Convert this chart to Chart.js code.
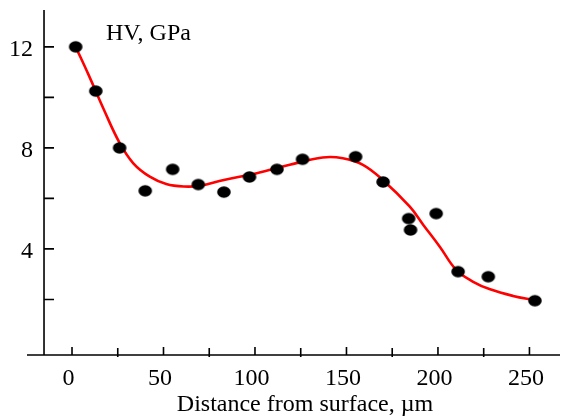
<!DOCTYPE html>
<html>
<head>
<meta charset="utf-8">
<script src="https://cdn.jsdelivr.net/npm/chart.js@4"></script>
<style>
html,body{margin:0;padding:0;background:#fff;}
#wrap{width:561px;height:416px;position:relative;}
</style>
</head>
<body>
<div id="wrap"><canvas id="c" width="561" height="416"></canvas></div>
<script>
// measured hardness points
const depthPoints = [2, 13, 26, 40, 55, 69, 83, 97, 112, 126, 155, 170, 184, 185, 199, 211, 227.5, 253];
const hvPoints = [12.0, 10.25, 8.0, 6.3, 7.15, 6.55, 6.25, 6.85, 7.15, 7.55, 7.65, 6.65, 5.2, 4.75, 5.4, 3.1, 2.9, 1.95];
// fitted trend curve
const curveDepth = [2, 9, 17.5, 26, 33.5, 42.5, 51.5, 61, 70, 83, 101, 119, 137, 148, 159, 170, 184.5, 192, 201, 210, 219, 228.5, 241, 253];
const curveHV = [12.0, 10.9, 9.5, 8.2, 7.39, 6.86, 6.57, 6.47, 6.5, 6.73, 7.0, 7.33, 7.62, 7.59, 7.33, 6.72, 5.68, 4.95, 4.09, 3.17, 2.71, 2.40, 2.14, 1.97];
// ticks
const xMajorTicks = [0, 50, 100, 150, 200, 250];
const xMinorTicks = [25, 75, 125, 175, 225];
const yMajorTicks = [4, 8, 12];
const yMinorTicks = [2, 6, 10];
const yAxisAt = -15.3;
const yTitle = 'HV, GPa';
const xTitle = 'Distance from surface, µm';

const FONT = '"Liberation Serif", "Times New Roman", serif';

// elliptical dot marker
const dot = document.createElement('canvas');
dot.width = 16; dot.height = 14;
(function(){
  const c = dot.getContext('2d');
  c.fillStyle = '#000';
  c.beginPath();
  c.ellipse(8, 7, 6.8, 5.8, 0, 0, Math.PI * 2);
  c.fill();
})();

const axesPlugin = {
  id: 'axesPlugin',
  beforeDatasetsDraw(chart) {
    const ctx = chart.ctx;
    const xs = chart.scales.x, ys = chart.scales.y;
    const area = chart.chartArea;
    const x0 = xs.getPixelForValue(yAxisAt);
    const yb = area.bottom;
    ctx.save();
    ctx.strokeStyle = '#000';
    ctx.lineWidth = 1.6;
    ctx.beginPath();
    ctx.moveTo(area.left, yb); ctx.lineTo(area.right, yb);
    ctx.moveTo(x0, area.top); ctx.lineTo(x0, yb);
    xMajorTicks.forEach(v => { const p = xs.getPixelForValue(v); ctx.moveTo(p, yb); ctx.lineTo(p, yb - 8); });
    xMinorTicks.forEach(v => { const p = xs.getPixelForValue(v); ctx.moveTo(p, yb + 2); ctx.lineTo(p, yb - 7); });
    yMajorTicks.concat(yMinorTicks).forEach(v => { const p = ys.getPixelForValue(v); ctx.moveTo(x0, p); ctx.lineTo(x0 + 10, p); });
    ctx.stroke();

    ctx.fillStyle = '#000';
    ctx.font = '24px ' + FONT;
    ctx.textBaseline = 'alphabetic';
    ctx.textAlign = 'right';
    yMajorTicks.forEach(v => ctx.fillText(String(v), x0 - 11, ys.getPixelForValue(v) + 9));
    ctx.textAlign = 'center';
    xMajorTicks.forEach(v => ctx.fillText(String(v), xs.getPixelForValue(v) - 3.5, yb + 30));
    ctx.fillText(xTitle, 305, 411);
    ctx.textAlign = 'left';
    ctx.fillText(yTitle, 106, 40);
    ctx.restore();
  }
};

new Chart(document.getElementById('c'), {
  type: 'scatter',
  data: {
    datasets: [
      {
        label: 'fit',
        type: 'line',
        data: curveDepth.map((x, i) => ({x, y: curveHV[i]})),
        borderColor: '#ff0000',
        borderWidth: 2.6,
        pointRadius: 0,
        fill: false,
        tension: 0.4,
        order: 2
      },
      {
        label: 'HV',
        data: depthPoints.map((x, i) => ({x, y: hvPoints[i]})),
        pointStyle: dot,
        pointRadius: 6,
        order: 1
      }
    ]
  },
  options: {
    responsive: false,
    animation: false,
    devicePixelRatio: 1,
    layout: { autoPadding: false, padding: { left: 27, right: 1, top: 10, bottom: 61 } },
    plugins: { legend: { display: false }, tooltip: { enabled: false } },
    scales: {
      x: { type: 'linear', min: -24.6, max: 266.7, display: false },
      y: { type: 'linear', min: -0.2, max: 13.46, display: false }
    }
  },
  plugins: [axesPlugin]
});
</script>
</body>
</html>
